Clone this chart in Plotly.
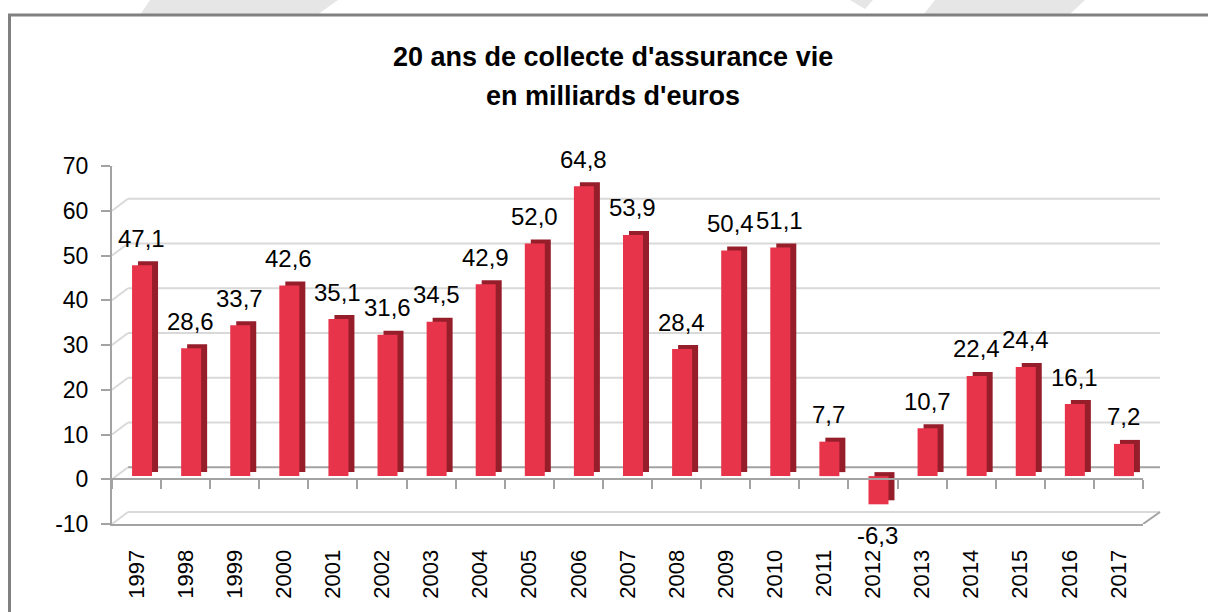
import plotly.graph_objects as go

# ---------------- data ----------------
YEARS = ["1997", "1998", "1999", "2000", "2001", "2002", "2003", "2004", "2005", "2006",
         "2007", "2008", "2009", "2010", "2011", "2012", "2013", "2014", "2015", "2016", "2017"]
VALUES = [47.1, 28.6, 33.7, 42.6, 35.1, 31.6, 34.5, 42.9, 52.0, 64.8,
          53.9, 28.4, 50.4, 51.1, 7.7, -6.3, 10.7, 22.4, 24.4, 16.1, 7.2]
Y_TICKS = [-10, 0, 10, 20, 30, 40, 50, 60, 70]
Y_TICK_TEXT = ["-10", "0", "10", "20", "30", "40", "50", "60", "70"]
TITLE_1 = "20 ans de collecte d'assurance vie"
TITLE_2 = "en milliards d'euros"

# ---------------- geometry / style ----------------
W, H = 1208, 612
def PX(x):
    return x / W
def PY(y):
    return 1 - y / H

FRONT_L, FRONT_R = 112, 1143      # front plane x extents (px)
FRONT_T, FRONT_B = 166, 524       # y of 70 and -10 on front plane (px)
DX, DY = 16, 12                   # 3-D depth offset of back wall (px)
PX_PER_UNIT = (FRONT_B - FRONT_T) / 80.0
DEPTH_UNITS = DY / PX_PER_UNIT
BAR_BASE = 0.7                    # bars sit slightly behind the front axis
CAT_PX = (FRONT_R - FRONT_L) / len(YEARS)
BAR_W = 20 / CAT_PX
BAR_OFF = -4.5 / CAT_PX
SIDE_DX = 6 / CAT_PX
SIDE_DY = 4 / PX_PER_UNIT

RED = "#E8344A"
DARK = "#961E2B"
AXIS = "#A3A3A3"
GRID = "#D9D9D9"
FONT = "Liberation Sans, Arial, sans-serif"

fig = go.Figure()

# bar side/top faces
fig.add_trace(go.Bar(x=YEARS, y=VALUES, base=BAR_BASE + SIDE_DY, xaxis="x", yaxis="y",
                     width=BAR_W, offset=BAR_OFF + SIDE_DX,
                     marker=dict(color=DARK, line=dict(width=0)),
                     hoverinfo="skip", showlegend=False))
# bar front faces
fig.add_trace(go.Bar(x=YEARS, y=VALUES, base=BAR_BASE, xaxis="x", yaxis="y",
                     width=BAR_W, offset=BAR_OFF,
                     marker=dict(color=RED, line=dict(width=0)),
                     showlegend=False))
# dummy trace for the zero axis with ticks
fig.add_trace(go.Scatter(x=YEARS, y=VALUES, xaxis="x2", yaxis="y", mode="markers",
                         marker=dict(opacity=0), hoverinfo="skip", showlegend=False))

shapes = []
# watermark shapes at top
def poly(pts, color="#E6E6E6"):
    d = "M " + " L ".join(f"{PX(a):.5f},{PY(b):.5f}" for a, b in pts) + " Z"
    return dict(type="path", path=d, xref="paper", yref="paper",
                fillcolor=color, line=dict(width=0), layer="below")
shapes.append(poly([(150, 0), (338, 0), (317, 15), (140, 15)]))
shapes.append(poly([(850, 0), (873, 0), (865, 9)]))
shapes.append(poly([(935, 0), (1085, 0), (1069, 15), (923, 15)]))
# chart frame
shapes.append(dict(type="rect", xref="paper", yref="paper",
                   x0=PX(9.5), x1=PX(1215), y0=PY(15), y1=PY(620),
                   fillcolor="white", line=dict(color="#808080", width=3), layer="below"))
# back-wall gridlines and diagonal connectors from front axis
for v in Y_TICKS:
    shapes.append(dict(type="line", xref="paper", yref="y",
                       x0=PX(FRONT_L + DX), x1=PX(FRONT_R + DX + 1),
                       y0=v + DEPTH_UNITS, y1=v + DEPTH_UNITS,
                       line=dict(color=AXIS if v == 0 else GRID, width=2), layer="below"))
    shapes.append(dict(type="line", xref="paper", yref="y",
                       x0=PX(FRONT_L), y0=v, x1=PX(FRONT_L + DX), y1=v + DEPTH_UNITS,
                       line=dict(color=GRID, width=2), layer="below"))
shapes.append(dict(type="line", xref="paper", yref="y",
                   x0=PX(FRONT_R), y0=-10, x1=PX(FRONT_R + DX + 1), y1=-10 + DEPTH_UNITS,
                   line=dict(color=AXIS, width=2), layer="below"))

annotations = []
for i, v in enumerate(VALUES):
    txt = f"{v:.1f}".replace(".", ",")
    annotations.append(dict(x=i, y=v + BAR_BASE, xref="x", yref="y", text=txt,
                            showarrow=False, xshift=5, yshift=27 if v >= 0 else -31,
                            xanchor="center", yanchor="middle",
                            font=dict(family=FONT, size=24, color="#000000")))
annotations.append(dict(x=PX(613), y=PY(57), xref="paper", yref="paper",
                        xanchor="center", yanchor="middle",
                        text=f"<b>{TITLE_1}</b>", showarrow=False,
                        font=dict(family=FONT, size=27, color="#000000")))
annotations.append(dict(x=PX(613), y=PY(96), xref="paper", yref="paper",
                        xanchor="center", yanchor="middle",
                        text=f"<b>{TITLE_2}</b>", showarrow=False,
                        font=dict(family=FONT, size=27, color="#000000")))

fig.update_layout(
    width=W, height=H,
    margin=dict(l=0, r=0, t=0, b=0, pad=0, autoexpand=False),
    paper_bgcolor="white", plot_bgcolor="rgba(0,0,0,0)",
    barmode="overlay",
    showlegend=False,
    font=dict(family=FONT, color="#000000"),
    xaxis=dict(domain=[PX(FRONT_L), PX(FRONT_R)], anchor="y",
               type="category", categoryorder="array", categoryarray=YEARS,
               range=[-0.5, len(YEARS) - 0.5], automargin=False,
               showline=True, linecolor=AXIS, linewidth=2, ticks="",
               showgrid=False, zeroline=False, tickangle=-90,
               ticklabelstandoff=15,
               tickfont=dict(family=FONT, size=22, color="#000000")),
    yaxis=dict(domain=[PY(FRONT_B), PY(FRONT_T)], anchor="x", range=[-10, 70],
               tickvals=Y_TICKS, ticktext=Y_TICK_TEXT, showgrid=False, zeroline=False,
               showline=True, linecolor=AXIS, linewidth=2, automargin=False,
               ticks="outside", ticklen=9, tickwidth=2, tickcolor=AXIS,
               ticklabelstandoff=8,
               tickfont=dict(family=FONT, size=23, color="#000000")),
    xaxis2=dict(overlaying="x", anchor="free",
                position=PY(FRONT_B - 10 * PX_PER_UNIT), automargin=False,
                matches="x", type="category", categoryorder="array", categoryarray=YEARS,
                showline=True, linecolor=AXIS, linewidth=2,
                ticks="outside", ticklen=9, tickwidth=2, tickcolor=AXIS,
                tickson="boundaries", showticklabels=False, showgrid=False, zeroline=False),
    shapes=shapes,
    annotations=annotations,
)

fig.write_html("out.html", config={"displayModeBar": False},
               post_script="document.body.style.margin='0';")
